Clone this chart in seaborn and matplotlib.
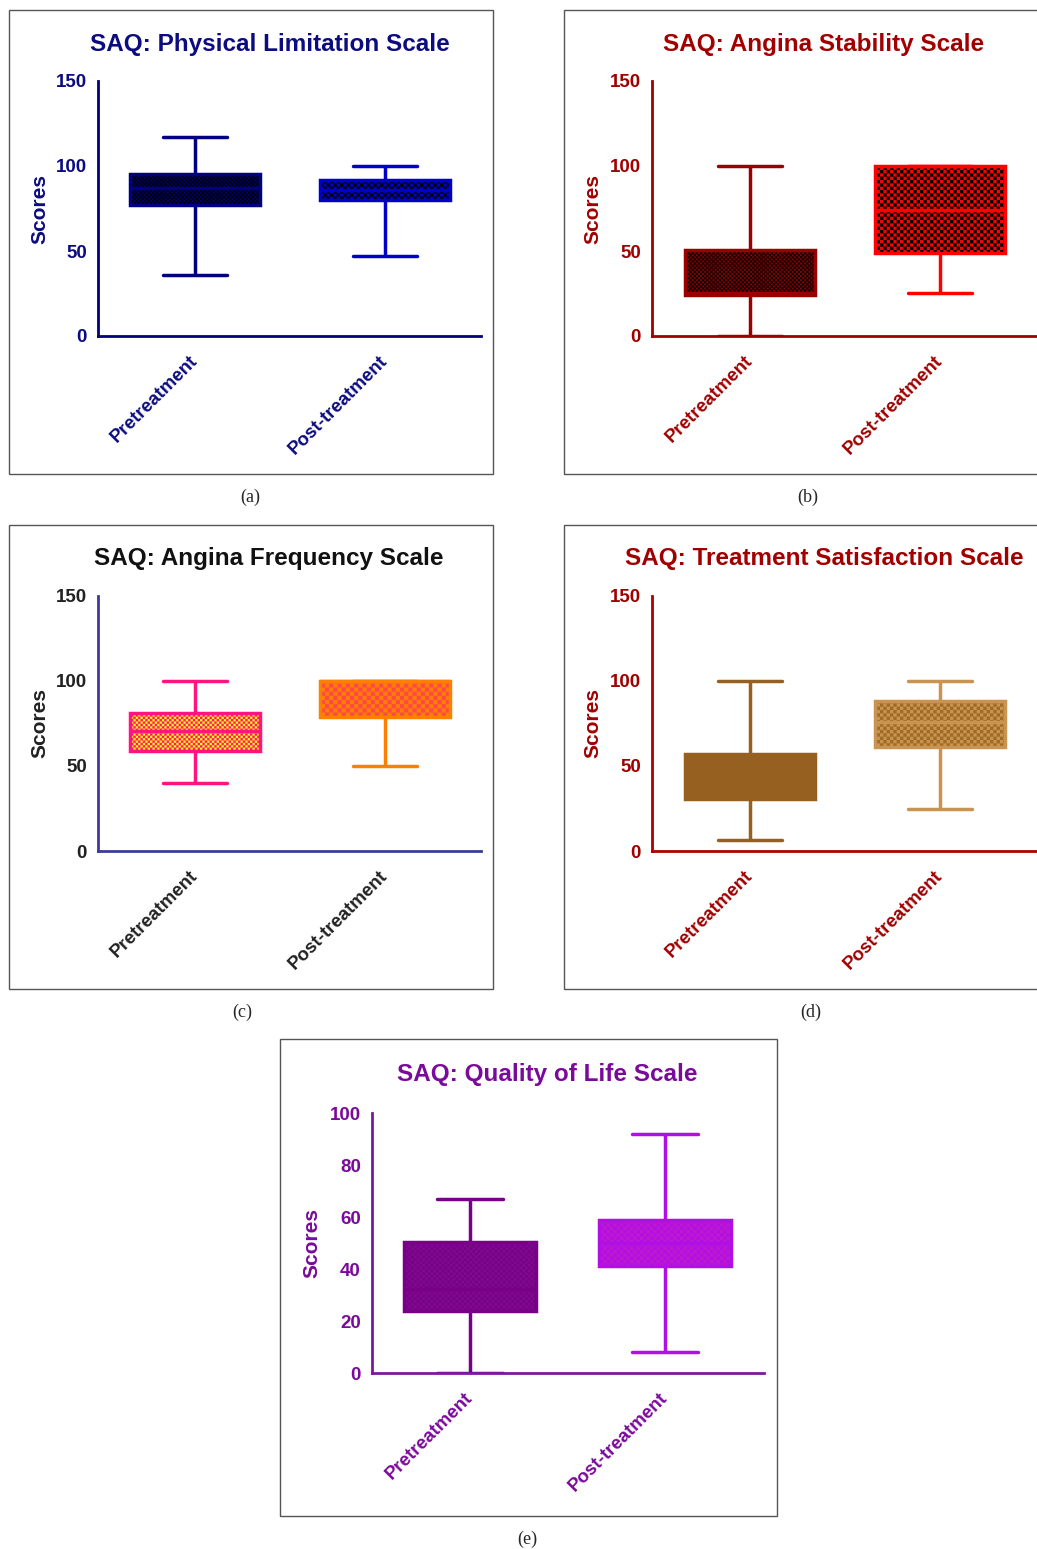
import numpy as np
import pandas as pd
import seaborn as sns
import matplotlib.pyplot as plt
import matplotlib.hatch as mhatch
import matplotlib.colors as mcolors
from matplotlib.path import Path
from matplotlib.patches import Rectangle

groups = ['Pretreatment', 'Post-treatment']

# five-number summaries: min, q1, median, q3, max
phys_pre = [36, 77, 87, 95, 117]
phys_post = [47, 80, 86, 92, 100]
stab_pre = [0, 24, 25, 50.5, 100]
stab_post = [25, 49, 74, 100, 100]
freq_pre = [40, 59, 70.5, 81, 100]
freq_post = [50, 79, 100, 100, 100]
sat_pre = [6.5, 30.5, 45, 57, 100]
sat_post = [25, 61, 76, 88, 100]
qol_pre = [0, 24, 32.5, 50.5, 67]
qol_post = [8, 41, 50, 59, 92]

titles = ['SAQ: Physical Limitation Scale', 'SAQ: Angina Stability Scale',
          'SAQ: Angina Frequency Scale', 'SAQ: Treatment Satisfaction Scale',
          'SAQ: Quality of Life Scale']
captions = ['(a)', '(b)', '(c)', '(d)', '(e)']

W, H = 1037, 1549


# checkerboard hatch (filled squares) used in place of the 'o' pattern
class CheckerHatch(mhatch.HatchPatternBase):
    def __init__(self, hatch, density):
        self.n = int(hatch.count('o') * density)
        self.num_vertices = (self.n * self.n // 2) * 5

    def set_vertices_and_codes(self, vertices, codes):
        n = self.n
        s = 1.0 / n
        sq = np.array([[0, 0], [s, 0], [s, s], [0, s], [0, 0]])
        k = 0
        for i in range(n):
            for j in range(n):
                if (i + j) % 2 == 0:
                    vertices[k:k + 5] = sq + [i * s, j * s]
                    codes[k:k + 5] = [Path.MOVETO, Path.LINETO, Path.LINETO,
                                      Path.LINETO, Path.CLOSEPOLY]
                    k += 5


mhatch._hatch_types = [h for h in mhatch._hatch_types
                       if h is not mhatch.SmallCircles] + [CheckerHatch]

sns.set_style('white')
plt.rcParams['font.family'] = ['Liberation Sans', 'DejaVu Sans']
plt.rcParams['font.weight'] = 'bold'
plt.rcParams['hatch.linewidth'] = 0.05


def px(x0, y0, x1, y1):
    # pixel box (left, top, right, bottom) -> figure fraction rect
    return [x0 / W, 1 - y1 / H, (x1 - x0) / W, (y1 - y0) / H]


def draw_box(ax, vals, label, face, line, hatch=None, hcolor=None, width=0.68):
    n0 = len(ax.patches)
    df = pd.DataFrame({'group': label, 'score': vals})
    sns.boxplot(data=df, x='group', y='score', order=groups, color=face,
                linecolor=line, linewidth=2.5, width=width, whis=(0, 100),
                showfliers=False, saturation=1, ax=ax)
    for p in ax.patches[n0:]:
        p.set_facecolor(face)
        if hatch:
            p.set_hatch(hatch)
            p._hatch_color = mcolors.to_rgba(hcolor)


def style(ax, spine_c, label_c, ymax, ystep, xlim):
    ax.set_xlim(*xlim)
    ax.set_ylim(0, ymax)
    ax.set_yticks(np.arange(0, ymax + 1, ystep))
    sns.despine(ax=ax)
    for s in ['left', 'bottom']:
        ax.spines[s].set_color(spine_c)
        ax.spines[s].set_linewidth(2)
    ax.tick_params(axis='both', colors=spine_c, width=2, length=6,
                   labelsize=13.5, labelcolor=label_c, pad=2)
    ax.tick_params(axis='x', pad=10)
    ax.set_xlabel('')
    ax.set_ylabel('Scores', fontsize=15, fontweight='bold', color=label_c)
    ax.yaxis.set_label_coords(-0.128, 0.5)
    for t in ax.get_xticklabels():
        t.set_rotation(45)
        t.set_ha('right')
        t.set_va('center')
        t.set_rotation_mode('anchor')
        t.set_fontweight('bold')
    for t in ax.get_yticklabels():
        t.set_fontweight('bold')


fig = plt.figure(figsize=(W / 100, H / 100), dpi=100)

frames = [(9, 10, 493, 474), (564, 10, 1045, 474), (9, 525, 493, 989),
          (564, 525, 1045, 989), (280, 1039, 777, 1516)]
for f in frames:
    fig.add_artist(Rectangle((f[0] / W, 1 - f[3] / H), (f[2] - f[0]) / W,
                             (f[3] - f[1]) / H, transform=fig.transFigure,
                             fill=False, edgecolor='#555555', linewidth=1))

cap_pos = [(250, 497), (808, 497), (242, 1012), (811, 1012), (527, 1539)]
for c, (x, y) in zip(captions, cap_pos):
    fig.text(x / W, 1 - y / H, c, ha='center', va='center', fontsize=13,
             family='Liberation Serif', fontweight='normal')

title_pos = [(270, 44), (824, 44), (269, 559), (824, 559), (547, 1074)]
title_cols = ['#0c0c80', '#a00000', '#111111', '#a00000', '#7a0a9a']
for t, (x, y), c in zip(titles, title_pos, title_cols):
    fig.text(x / W, 1 - y / H, t, ha='center', va='center', fontsize=17.5,
             fontweight='bold', color=c)

# (a) physical limitation
ax = fig.add_axes(px(98, 81, 481, 336))
draw_box(ax, phys_pre, groups[0], '#00006e', '#000080', 'oooooooo', 'black')
draw_box(ax, phys_post, groups[1], '#0000c8', '#0000c8', 'ooooo', 'black')
style(ax, '#000080', '#0c0c80', 150, 50, (-0.51, 1.505))

# (b) angina stability
ax = fig.add_axes(px(652, 81, 1037, 336))
draw_box(ax, stab_pre, groups[0], '#8a0000', '#990000', 'oooooooo', 'black')
draw_box(ax, stab_post, groups[1], '#ff0000', '#ff0000', 'ooooo', 'black')
style(ax, '#a00000', '#a00000', 150, 50, (-0.516, 1.51))

# (c) angina frequency
ax = fig.add_axes(px(98, 596, 481, 851))
draw_box(ax, freq_pre, groups[0], '#ffff00', '#ff1480', 'ooooooo', '#ff1480')
draw_box(ax, freq_post, groups[1], '#ff8000', '#ff8000', 'oooo', '#ff4848')
style(ax, '#3c3c96', '#222222', 150, 50, (-0.51, 1.505))

# (d) treatment satisfaction
ax = fig.add_axes(px(652, 596, 1037, 851))
draw_box(ax, sat_pre, groups[0], '#956020', '#956020')
draw_box(ax, sat_post, groups[1], '#c8944f', '#c8944f', 'ooooo', '#a06a28')
style(ax, '#b00000', '#a00000', 150, 50, (-0.516, 1.51))

# (e) quality of life
ax = fig.add_axes(px(372, 1113, 764, 1373))
draw_box(ax, qol_pre, groups[0], '#780088', '#780088', 'oooooo', '#7e0a8e')
draw_box(ax, qol_post, groups[1], '#b010e6', '#b010e6', 'ooooo', '#c018cc')
style(ax, '#7a1a9c', '#7a0a9a', 100, 20, (-0.503, 1.508))

fig.savefig('out.png', dpi=100)
